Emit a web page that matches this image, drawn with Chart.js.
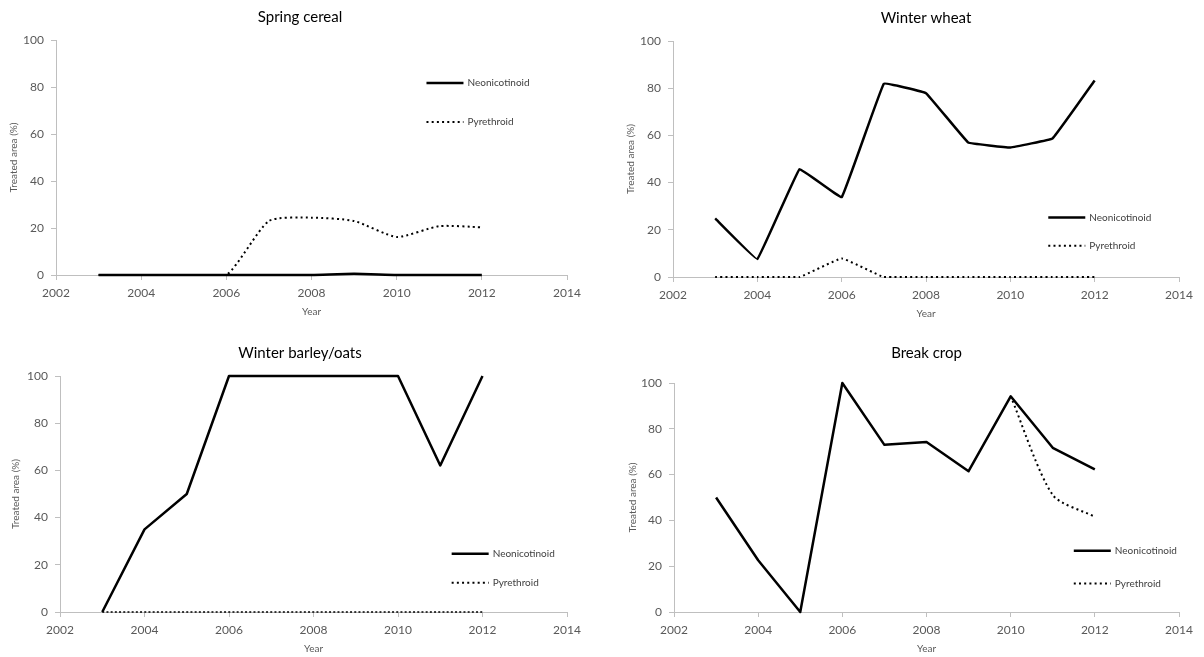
<!DOCTYPE html>
<html><head><meta charset="utf-8">
<script src="https://cdn.jsdelivr.net/npm/chart.js@4.4.1/dist/chart.umd.min.js"></script>
<style>
html,body{margin:0;padding:0;background:#fff;}
body{width:1204px;height:657px;position:relative;overflow:hidden;}
canvas{position:absolute;}
</style></head><body>
<canvas id="c1" width="600" height="328" style="left:0px;top:0px"></canvas>
<canvas id="c2" width="600" height="328" style="left:604px;top:0px"></canvas>
<canvas id="c3" width="600" height="329" style="left:0px;top:328px"></canvas>
<canvas id="c4" width="600" height="329" style="left:604px;top:328px"></canvas>
<script>
// ---- data ----
const years = [2003, 2004, 2005, 2006, 2007, 2008, 2009, 2010, 2011, 2012];
const springNeo = [0, 0, 0, 0, 0, 0, 0.5, 0, 0, 0];
const springPyr = [0, 0, 0, 0, 23.0, 24.4, 23.0, 16.2, 20.8, 20.3];
const wheatNeo  = [24.8, 7.6, 45.7, 33.8, 81.9, 77.9, 57.0, 54.9, 58.7, 83.3];
const wheatPyr  = [0, 0, 0, 7.8, 0, 0, 0, 0, 0, 0];
const barleyNeo = [0, 35, 50, 100, 100, 100, 100, 100, 62.1, 100];
const barleyPyr = [0, 0, 0, 0, 0, 0, 0, 0, 0, 0];
const breakNeo  = [50, 22.6, 0, 100, 73, 74.2, 61.5, 94.2, 71.7, 62.3];
const breakPyr  = [null, null, null, null, null, null, null, 94.2, 51.1, 41.6];
const panelTitles = ['Spring cereal', 'Winter wheat', 'Winter barley/oats', 'Break crop'];
const seriesLabels = ['Neonicotinoid', 'Pyrethroid'];
const xTicks = [2002, 2004, 2006, 2008, 2010, 2012, 2014];
const yTicks = [0, 20, 40, 60, 80, 100];
const xAxisTitle = 'Year';
const yAxisTitle = 'Treated area (%)';

Chart.defaults.font.family = 'Lato, "Open Sans", sans-serif';

const inlineLegend = {
  id: 'inlineLegend',
  afterDatasetsDraw(chart, args, opts) {
    const {ctx} = chart;
    const x = chart.scales.x, y = chart.scales.y;
    ctx.save();
    chart.data.datasets.forEach((ds, i) => {
      const px = x.getPixelForValue(opts.x);
      const py = y.getPixelForValue(opts.y[i]);
      ctx.beginPath();
      ctx.lineWidth = ds.legendWidth || ds.borderWidth;
      ctx.setLineDash(ds.legendDash || ds.borderDash || []);
      ctx.strokeStyle = ds.borderColor;
      ctx.lineCap = 'butt';
      ctx.moveTo(px, py);
      ctx.lineTo(px + opts.length, py);
      ctx.stroke();
      ctx.setLineDash([]);
      ctx.fillStyle = opts.color;
      ctx.font = opts.font;
      ctx.textBaseline = 'middle';
      ctx.textAlign = 'left';
      ctx.fillText(ds.label, px + opts.length + opts.gap, py);
    });
    ctx.restore();
  }
};

function pts(vals) { return years.map((yr, i) => ({x: yr, y: vals[i]})); }

function makeChart(id, title, neo, pyr, cfg) {
  const axisGrey = '#bfbfbf';
  const textGrey = '#595959';
  const scales = {
    x: {
      type: 'linear', min: 2002, max: 2014,
      afterBuildTicks: s => { s.ticks = xTicks.map(v => ({value: v})); },
      afterFit: s => { s.height = cfg.xh; },
      border: {color: axisGrey, width: 1},
      grid: {drawOnChartArea: false, drawTicks: true, tickLength: 5, color: axisGrey},
      ticks: {padding: 6, color: textGrey, font: {size: 12}, maxRotation: 0, autoSkip: false,
              callback: v => String(v)},
      title: {display: true, text: xAxisTitle, color: textGrey, font: {size: 10},
              padding: {top: 0, bottom: cfg.xtp}}
    },
    y: {
      type: 'linear', min: 0, max: 100,
      afterBuildTicks: s => { s.ticks = yTicks.map(v => ({value: v})); },
      afterFit: s => { s.width = cfg.yw; },
      border: {color: axisGrey, width: 1},
      grid: {drawOnChartArea: false, drawTicks: true, tickLength: 5, color: axisGrey},
      ticks: {padding: 7, color: textGrey, font: {size: 12}, callback: v => String(v)},
      title: {display: true, text: yAxisTitle, color: textGrey, font: {size: 10},
              padding: {top: cfg.ytp, bottom: 0}}
    }
  };
  if (cfg.rightBox) {
    scales.spacer = {
      type: 'linear', position: 'right', display: true, min: 0, max: 1,
      afterFit: s => { s.width = cfg.rightBox; },
      border: {display: false},
      grid: {display: false, drawTicks: false},
      ticks: {display: false},
      title: {display: false}
    };
  }
  new Chart(document.getElementById(id), {
    type: 'line',
    data: {
      datasets: [
        {label: seriesLabels[0], data: pts(neo), borderColor: '#000', borderWidth: 2.5,
         pointRadius: 0, tension: cfg.neoTension, clip: false, borderJoinStyle: 'round'},
        {label: seriesLabels[1], data: pts(pyr), borderColor: '#000', borderWidth: cfg.pyrWidth,
         borderDash: cfg.pyrDash, legendWidth: 2, legendDash: [2, 3.2],
         pointRadius: 0, tension: cfg.pyrTension, clip: false, spanGaps: false}
      ]
    },
    plugins: [inlineLegend],
    options: {
      responsive: false,
      animation: false,
      layout: {padding: {top: 0, left: 0, right: cfg.padR, bottom: 0}},
      plugins: {
        legend: {display: false},
        tooltip: {enabled: false},
        title: {display: true, text: title, fullSize: cfg.titleFull, color: '#000',
                font: {size: 15, weight: 'normal'}, padding: {top: cfg.tTop, bottom: cfg.tBot}},
        inlineLegend: {x: cfg.legX, y: cfg.legY, length: 37, gap: 4, color: '#404040',
                       font: '10px Lato, "Open Sans", sans-serif'}
      },
      scales: scales
    }
  });
}

makeChart('c1', panelTitles[0], springNeo, springPyr,
  {padR: 0, rightBox: 33, titleFull: true, tTop: 8, tBot: 14, yw: 56, ytp: 8, xh: 53, xtp: 10,
   legX: 2010.70, legY: [81.7, 65.1], neoTension: 0.2, pyrTension: 0.2, pyrWidth: 2, pyrDash: [2, 3.2]});
makeChart('c2', panelTitles[1], wheatNeo, wheatPyr,
  {padR: 25, titleFull: false, tTop: 9.6, tBot: 13.4, yw: 69, ytp: 21, xh: 51, xtp: 8,
   legX: 2010.9, legY: [25.2, 13.2], neoTension: 0.05, pyrTension: 0.1, pyrWidth: 2, pyrDash: [2, 3.2]});
makeChart('c3', panelTitles[2], barleyNeo, barleyPyr,
  {padR: 0, rightBox: 33, titleFull: true, tTop: 15.7, tBot: 14.3, yw: 60, ytp: 10, xh: 45, xtp: 2,
   legX: 2011.27, legY: [24.7, 12.4], neoTension: 0, pyrTension: 0, pyrWidth: 1.3, pyrDash: [2, 2.2]});
makeChart('c4', panelTitles[3], breakNeo, breakPyr,
  {padR: 25, titleFull: false, tTop: 15.7, tBot: 21.3, yw: 70, ytp: 22.6, xh: 45, xtp: 2,
   legX: 2011.5, legY: [26.7, 12.4], neoTension: 0, pyrTension: 0.25, pyrWidth: 2, pyrDash: [2, 3.2]});
</script>
</body></html>
